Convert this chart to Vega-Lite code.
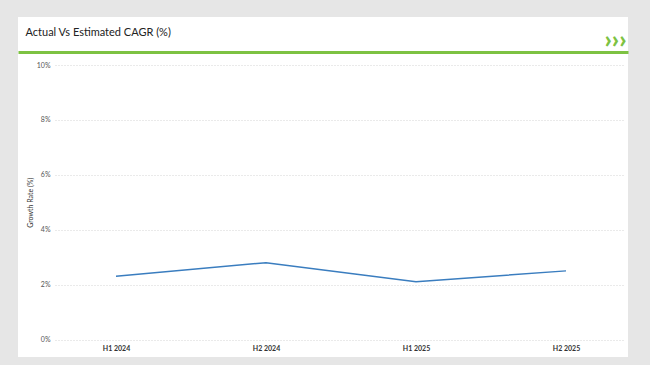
{
  "$schema": "https://vega.github.io/schema/vega-lite/v6.json",
  "autosize": "none",
  "width": 610,
  "height": 340,
  "padding": {"left": 18, "top": 17, "right": 22, "bottom": 8},
  "background": "#e6e6e6",
  "config": {"view": {"fill": "white", "stroke": null}, "font": "Lato"},
  "data": {"values": [
    {"period": "H1 2024", "growth": 2.3},
    {"period": "H2 2024", "growth": 2.8},
    {"period": "H1 2025", "growth": 2.1},
    {"period": "H2 2025", "growth": 2.5}
  ]},
  "layer": [
    {
      "mark": {"type": "line", "strokeOpacity": 0},
      "encoding": {
        "x": {"field": "period", "type": "ordinal", "sort": null,
          "scale": {"type": "point", "padding": 0.5333, "align": 0.6125},
          "axis": {"orient": "top", "offset": -35, "labels": false, "ticks": false, "grid": false,
            "domain": true, "domainColor": "#7dc242", "domainWidth": 3,
            "title": "Actual Vs Estimated CAGR (%)", "titleX": 7, "titleY": -20, "titleAlign": "left",
            "titleAnchor": "start", "titleBaseline": "middle", "titleAngle": 0,
            "titleFont": "Lato", "titleFontSize": 11, "titleFontWeight": "normal", "titleColor": "#222"}},
        "y": {"field": "growth", "type": "quantitative",
          "scale": {"domain": [0, 10], "range": [322.5, 48], "nice": false, "zero": false},
          "axis": {"orient": "left", "offset": -37, "values": [0, 2, 4, 6, 8, 10],
            "labels": false, "domain": false, "grid": false, "ticks": true,
            "tickSize": -570, "tickDash": [1, 2], "tickColor": "#d4d4d4", "tickWidth": 1,
            "title": "›››", "titleX": 560, "titleY": 22, "titleAngle": 0, "titleAlign": "center",
            "titleBaseline": "middle", "titleFont": "Lato", "titleFontSize": 25,
            "titleFontWeight": 900, "titleColor": "#7dc242", "zindex": 0}}
      }
    },
    {
      "mark": {"type": "line", "color": "#3a7dbf", "strokeWidth": 1.5},
      "encoding": {
        "x": {"field": "period", "type": "ordinal", "sort": null,
          "axis": {"orient": "bottom", "offset": -17, "labelPadding": 4, "ticks": false, "domain": false,
            "grid": false, "labelAngle": 0, "labelFontSize": 7, "labelColor": "#333",
            "labelFontWeight": "bold", "title": null}},
        "y": {"field": "growth", "type": "quantitative",
          "axis": {"orient": "left", "offset": -34, "values": [0, 2, 4, 6, 8, 10], "labelExpr": "datum.value + '%'",
            "labelPadding": 2, "ticks": false, "domain": false, "grid": false,
            "labelFontSize": 7, "labelColor": "#555",
            "title": "Growth Rate (%)", "titleX": -22, "titleAngle": -90, "titleAlign": "center", "titleBaseline": "middle",
            "titleFontSize": 7, "titleFontWeight": "normal", "titleColor": "#333"}}
      }
    }
  ],
  "resolve": {"axis": {"x": "independent", "y": "independent"}}
}
